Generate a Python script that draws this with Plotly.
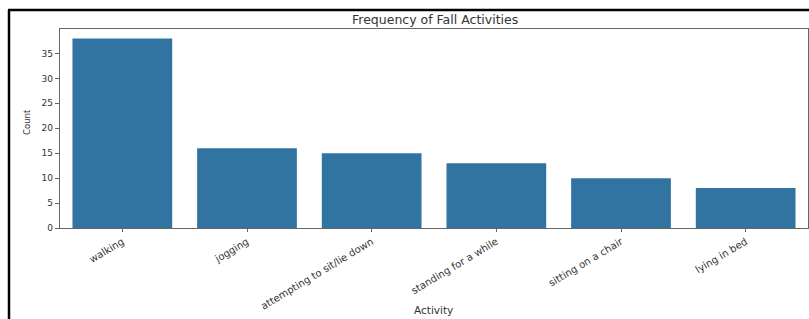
import plotly.graph_objects as go

activities = ["walking", "jogging", "attempting to sit/lie down", "standing for a while",
              "sitting on a chair", "lying in bed"]
counts = [38, 16, 15, 13, 10, 8]
y_ticks = [0, 5, 10, 15, 20, 25, 30, 35]

W, H = 809, 319
L, R, T, B = 60, 1, 29, 91
pw, ph = W - L - R, H - T - B

def px(x):
    return (x - L) / pw

def py(y):
    return (H - B - y) / ph

fig = go.Figure(go.Bar(x=activities, y=counts, marker_color="#3274a1",
                       marker_line_width=0, width=0.8))

font = "DejaVu Sans"
fig.update_layout(
    width=W, height=H, margin=dict(l=L, r=R, t=T, b=B, pad=0, autoexpand=False),
    paper_bgcolor="white", plot_bgcolor="white", showlegend=False,
    font=dict(family=font, size=9, color="#333333"),
    bargap=0.2,
)
fig.update_xaxes(type="category", range=[-0.5, 5.5], showline=True, linecolor="#666666",
                 linewidth=1.3, mirror=True, ticks="outside", ticklen=3, tickcolor="#666666",
                 tickangle=-31, showgrid=False, tickfont=dict(size=10), automargin=False)
fig.update_yaxes(range=[0, 39.9], tickvals=y_ticks, showline=True, linecolor="#666666",
                 linewidth=1.3, mirror=True, ticks="outside", ticklen=4, tickcolor="#666666",
                 showgrid=False, zeroline=False, tickfont=dict(size=9), automargin=False)

fig.add_annotation(text="Frequency of Fall Activities", xref="paper", yref="paper",
                   x=px(435), y=py(19), showarrow=False, font=dict(size=12.5),
                   xanchor="center", yanchor="middle")
fig.add_annotation(text="Activity", xref="paper", yref="paper",
                   x=px(433), y=py(310), showarrow=False, font=dict(size=10.5),
                   xanchor="center", yanchor="middle")
fig.add_annotation(text="Count", xref="paper", yref="paper",
                   x=px(27), y=py(122), showarrow=False, font=dict(size=8.5),
                   textangle=-90, xanchor="center", yanchor="middle")

# outer black frame lines (top and left)
fig.add_shape(type="line", xref="paper", yref="paper", x0=px(8), x1=px(809),
              y0=py(10), y1=py(10), line=dict(color="black", width=2.5))
fig.add_shape(type="line", xref="paper", yref="paper", x0=px(9), x1=px(9),
              y0=py(10), y1=py(319), line=dict(color="black", width=2.5))

fig.write_html("out.html", config={"displayModeBar": False},
               post_script="document.body.style.margin='0';document.body.style.overflow='hidden';")
